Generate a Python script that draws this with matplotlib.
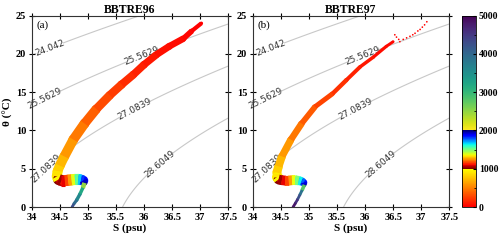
import numpy as np
import matplotlib
matplotlib.use("Agg")
import matplotlib.pyplot as plt
from matplotlib.collections import LineCollection
from matplotlib.colors import ListedColormap, Normalize
from matplotlib.cm import ScalarMappable
from matplotlib.ticker import MultipleLocator

# ---------------- data ----------------
titles = ["BBTRE96", "BBTRE97"]
panel_tags = ["(a)", "(b)"]
sigma_levels = [24.042, 25.5629, 27.0839, 28.6049]

# panel (a) profile centreline: salinity, potential temperature, depth
S96 = [37.02, 36.85, 36.70, 36.45, 36.22, 36.00, 35.81, 35.60, 35.39, 35.15,
       34.94, 34.74, 34.58, 34.50, 34.46, 34.45, 34.48, 34.53, 34.59, 34.65,
       34.71, 34.77, 34.83, 34.88, 34.92, 34.94, 34.91, 34.86, 34.80, 34.75, 34.72]
T96 = [24.0, 23.0, 22.0, 21.0, 19.9, 18.6, 17.3, 16.0, 14.6, 12.8,
       10.9, 8.8, 6.6, 5.4, 4.7, 4.0, 3.6, 3.45, 3.45, 3.5,
       3.55, 3.6, 3.6, 3.55, 3.45, 3.15, 2.5, 1.7, 0.9, 0.4, 0.0]
Z96 = [0, 15, 30, 50, 80, 110, 150, 200, 260, 330,
       420, 530, 660, 760, 840, 930, 1000, 1060, 1120, 1200,
       1300, 1450, 1600, 1750, 1880, 1980, 3000, 3400, 3800, 4100, 4400]

# panel (b) profile centreline
S97 = [36.50, 36.38, 36.15, 35.91, 35.67, 35.42, 35.11, 34.87, 34.68, 34.52,
       34.46, 34.43, 34.43, 34.46, 34.52, 34.58, 34.64, 34.70, 34.76, 34.82,
       34.87, 34.91, 34.92, 34.88, 34.84, 34.80, 34.76, 34.72]
T97 = [21.6, 21.0, 19.6, 18.3, 16.6, 14.8, 13.1, 10.9, 8.8, 6.6,
       5.3, 4.5, 3.9, 3.6, 3.5, 3.45, 3.45, 3.5, 3.5, 3.45,
       3.35, 3.2, 2.9, 2.2, 1.6, 1.0, 0.5, 0.0]
Z97 = [20, 40, 70, 110, 160, 220, 300, 400, 520, 660,
       760, 850, 940, 1000, 1060, 1120, 1200, 1300, 1420, 1560,
       1700, 1850, 1980, 3600, 4100, 4450, 4700, 4900]
# sparse near-surface samples of panel (b)
S97_sparse = [36.53, 36.56, 36.60, 36.62, 36.68, 36.74, 36.80, 36.85, 36.89, 36.94, 36.98, 37.02, 37.06, 37.10]
T97_sparse = [22.5, 22.2, 21.9, 21.6, 21.9, 22.1, 22.3, 22.5, 22.7, 23.0, 23.2, 23.5, 23.8, 24.2]
Z97_sparse = [15, 12, 11, 10, 8, 6, 5, 4, 3, 2, 2, 1, 1, 0]

# ---------------- styles ----------------
W96 = [2.5, 3.5, 4.5, 5, 5, 5.5, 5.5, 6, 6, 6.5,
       7, 7, 7, 7, 7, 7.5, 8, 8, 8, 8,
       8, 8, 8, 7.5, 7, 4, 2.5, 2.5, 2.5, 2, 2]
W97 = [2, 2.2, 2.4, 2.6, 3, 3.3, 3.8, 4.5, 5, 5.5,
       6, 6.5, 7, 7, 7, 7, 7, 7, 7, 6.5,
       6, 5, 3, 2.2, 2, 2, 2, 2]

plt.rcParams["font.family"] = ["Liberation Serif", "DejaVu Serif"]

# composite colormap: autumn 0-1000, jet_r 1000-2000, viridis_r 2000-5000
cols = np.vstack([
    plt.get_cmap("autumn")(np.linspace(0, 1, 100)),
    plt.get_cmap("jet_r")(np.linspace(0, 1, 100)),
    plt.get_cmap("viridis_r")(np.linspace(0, 1, 300)),
])
cmap = ListedColormap(cols)
norm = Normalize(0, 5000)


def sigma0(S, T):
    rw = (999.842594 + 6.793952e-2 * T - 9.095290e-3 * T**2 + 1.001685e-4 * T**3
          - 1.120083e-6 * T**4 + 6.536332e-9 * T**5)
    A = 8.24493e-1 - 4.0899e-3 * T + 7.6438e-5 * T**2 - 8.2467e-7 * T**3 + 5.3875e-9 * T**4
    B = -5.72466e-3 + 1.0227e-4 * T - 1.6546e-6 * T**2
    C = 4.8314e-4
    return rw + A * S + B * S**1.5 + C * S**2 - 1000.0


fig = plt.figure(figsize=(5.0, 2.41), dpi=100)
ax1 = fig.add_axes([0.0634, 0.141, 0.3932, 0.794])
ax2 = fig.add_axes([0.5054, 0.141, 0.3932, 0.794])
cax = fig.add_axes([0.924, 0.141, 0.028, 0.794])

Sg, Tg = np.meshgrid(np.linspace(34, 37.5, 300), np.linspace(0, 25, 300))
Dg = sigma0(Sg, Tg)
label_pos = [(34.33, 20.5), (34.25, 14.0), (35.97, 19.6), (34.27, 4.9), (35.81, 13.1), (36.12, 7.0)]

profiles = [(S96, T96, Z96, W96), (S97, T97, Z97, W97)]
for i, ax in enumerate([ax1, ax2]):
    cs = ax.contour(Sg, Tg, Dg, levels=sigma_levels, colors="#c8c8c8", linewidths=0.8, zorder=1)
    txts = ax.clabel(cs, fmt=lambda v: f"{v:g}", fontsize=6.5, manual=label_pos,
                     inline=True, inline_spacing=2)
    for t in txts:
        t.set_color("#333333")
        t.set_fontfamily("DejaVu Sans")
        t.set_clip_on(False)

    S, T, Z, W = profiles[i]
    pts = np.column_stack([S, T])
    segs = np.stack([pts[:-1], pts[1:]], axis=1)
    zmid = (np.array(Z[:-1]) + np.array(Z[1:])) / 2.0
    wmid = (np.array(W[:-1]) + np.array(W[1:])) / 2.0
    # round joins drawn as vertex discs beneath butt-capped segments
    ax.scatter(S, T, c=Z, cmap=cmap, norm=norm, s=np.array(W) ** 2,
               linewidths=0, zorder=2)
    lc = LineCollection(segs, colors=cmap(norm(zmid)), linewidths=wmid,
                        capstyle="butt", zorder=3)
    ax.add_collection(lc)
    if i == 1:
        ax.scatter(S97_sparse, T97_sparse, c=Z97_sparse, cmap=cmap, norm=norm, s=1.5,
                   linewidths=0, zorder=3)

    ax.set_xlim(34, 37.5)
    ax.set_ylim(0, 25)
    ax.set_xticks(np.arange(34, 37.51, 0.5))
    ax.set_xticklabels(["34", "34.5", "35", "35.5", "36", "36.5", "37", "37.5"])
    ax.set_yticks(np.arange(0, 26, 5))
    ax.tick_params(direction="inout", length=4, width=0.8, top=True, right=True,
                   labelsize=7.5, pad=2)
    for lab in ax.get_xticklabels() + ax.get_yticklabels():
        lab.set_fontweight("bold")
    for sp in ax.spines.values():
        sp.set_linewidth(0.8)
        sp.set_color("#333333")
    ax.set_title(titles[i], fontsize=8.5, fontweight="bold", pad=2)
    ax.set_xlabel("S (psu)", fontsize=8, fontweight="bold", labelpad=1)
    ax.text(0.025, 0.975, panel_tags[i], transform=ax.transAxes, ha="left", va="top", fontsize=8)

ax1.set_ylabel("θ (°C)", fontsize=8, fontweight="bold", labelpad=2)

cb = fig.colorbar(ScalarMappable(norm=norm, cmap=cmap), cax=cax, ticks=range(0, 5001, 1000))
cb.outline.set_linewidth(0.6)
cax.tick_params(labelsize=7, length=2, direction="in", pad=2)
cax.yaxis.set_minor_locator(MultipleLocator(500))
cax.tick_params(which="minor", length=1.5, direction="in")
for lab in cax.get_yticklabels():
    lab.set_fontweight("bold")

fig.savefig("out.png", dpi=100)
